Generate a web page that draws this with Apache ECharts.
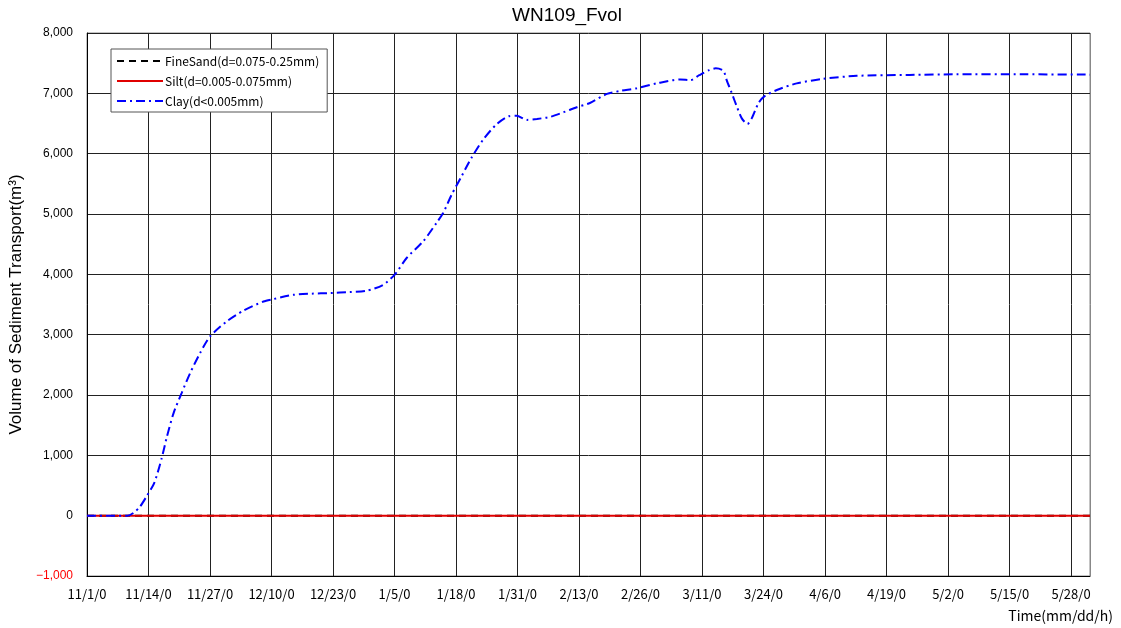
<!DOCTYPE html>
<html>
<head>
<meta charset="utf-8">
<script src="https://cdn.jsdelivr.net/npm/echarts@6/dist/echarts.min.js"></script>
<style>
  html, body { margin: 0; padding: 0; background: #fff; }
  #chart { width: 1121px; height: 628px; }
</style>
</head>
<body>
<div id="chart"></div>
<script>
// Tick labels every 13 days starting 11/1 (mm/dd/h)
const tickLabels = ['11/1/0', '11/14/0', '11/27/0', '12/10/0', '12/23/0', '1/5/0', '1/18/0',
  '1/31/0', '2/13/0', '2/26/0', '3/11/0', '3/24/0', '4/6/0', '4/19/0', '5/2/0', '5/15/0', '5/28/0'];

// Elapsed days since 11/1/0 and transported volume (m3)
const fineSandDays = [0, 212];
const fineSandVolume = [0, 0];

const siltDays = [0, 212];
const siltVolume = [0, 0];

const clayDays = [0, 8.5, 9.8, 11.2, 12.6, 14.2, 15.8, 16.9, 18.3, 20.0, 21.8, 23.9, 26.0,
  29.5, 33.0, 37.3, 39.4, 43.6, 47.5, 51.4, 55.5, 59.1, 62.6, 65.1, 67.6, 71.1, 73.9, 75.3,
  77.1, 79.2, 81.3, 83.8, 86.6, 89.1, 90.8, 93.0, 95.1, 97.9, 100.7, 103.5, 106.3, 109.9,
  112.7, 116.2, 120.4, 125.4, 127.6, 129.4, 131.5, 132.9, 134.5, 135.2, 136.3, 137.35,
  138.4, 139.6, 140.5, 141.9, 143.1, 145.8, 150.0, 155.6, 162.7, 173.9, 183.8, 197.9, 212];
const clayVolume = [0, 0, 45, 150, 320, 540, 955, 1313, 1700, 2032, 2363, 2695, 2970,
  3218, 3395, 3550, 3590, 3660, 3680, 3690, 3705, 3727, 3826, 4000, 4275, 4550, 4855, 5020,
  5325, 5630, 5935, 6240, 6490, 6620, 6630, 6560, 6575, 6610, 6685, 6770, 6840, 6990,
  7040, 7085, 7165, 7230, 7220, 7300, 7385, 7415, 7375, 7220, 7000, 6780,
  6585, 6492, 6585, 6835, 6945, 7055, 7165, 7240, 7290, 7305, 7315, 7315, 7310];

const pairs = (xs, ys) => xs.map((x, i) => [x, ys[i]]);

const chart = echarts.init(document.getElementById('chart'), null, { renderer: 'canvas' });

const jpFont = '"Noto Sans CJK JP", "Noto Sans", sans-serif';
const latinFont = '"Liberation Sans", Arial, sans-serif';

// Vertical grid lines: black at each dated tick, grey at the closing edge
const xGridColors = tickLabels.map(() => '#222').concat(['#888']);

chart.setOption({
  animation: false,
  backgroundColor: '#fff',
  title: {
    text: 'WN109_Fvol',
    left: 562,
    textAlign: 'center',
    top: 1,
    textStyle: { fontFamily: latinFont, fontSize: 19, fontWeight: 'normal', color: '#000' }
  },
  grid: {
    left: 87, right: 31, top: 33, bottom: 52,
    outerBoundsMode: 'none',
    containLabel: false,
    show: true, borderColor: '#888', borderWidth: 1, backgroundColor: '#fff'
  },
  legend: {
    orient: 'vertical',
    left: 111,
    top: 49,
    backgroundColor: '#fff',
    borderColor: '#555',
    borderWidth: 1,
    padding: [6, 8, 5, 5],
    itemWidth: 46,
    itemHeight: 12,
    itemGap: 8,
    itemStyle: { color: 'transparent', borderColor: 'transparent', borderWidth: 0 },
    textStyle: { fontFamily: jpFont, fontSize: 12, color: '#000', padding: [0, 0, 0, -3] },
    data: ['FineSand(d=0.075-0.25mm)', 'Silt(d=0.005-0.075mm)', 'Clay(d<0.005mm)']
  },
  xAxis: {
    type: 'value',
    min: 0,
    max: 212,
    interval: 13,
    name: 'Time(mm/dd/h)',
    nameLocation: 'end',
    nameGap: 23,
    nameTextStyle: {
      fontFamily: jpFont, fontSize: 14, color: '#000',
      align: 'right', verticalAlign: 'top', padding: [33, 0, 0, 0]
    },
    axisLine: { onZero: false, lineStyle: { color: '#000', width: 1 } },
    axisTick: { show: false },
    axisLabel: {
      margin: 12,
      fontFamily: jpFont, fontSize: 13, color: '#000',
      formatter: (v) => {
        const i = Math.round(v / 13);
        return Math.abs(v - i * 13) < 1e-6 && tickLabels[i] ? tickLabels[i] : '';
      }
    },
    splitLine: { show: true, lineStyle: { color: xGridColors, width: 1 } }
  },
  yAxis: {
    type: 'value',
    min: -1000,
    max: 8000,
    interval: 1000,
    name: 'Volume of Sediment Transport(m³)',
    nameLocation: 'middle',
    nameGap: 57,
    nameTextStyle: { fontFamily: latinFont, fontSize: 17, color: '#000' },
    axisLine: { show: true, lineStyle: { color: '#000', width: 1 } },
    axisTick: { show: false },
    axisLabel: {
      margin: 14,
      fontFamily: latinFont, fontSize: 12,
      color: (v) => (Number(v) < 0 ? '#ff0000' : '#000'),
      formatter: (v) => (v < 0 ? '\u2212' : '') + Math.abs(v).toLocaleString('en-US')
    },
    splitLine: { show: true, lineStyle: { color: '#222', width: 1 } }
  },
  series: [
    {
      name: 'FineSand(d=0.075-0.25mm)',
      type: 'line',
      showSymbol: false,
      symbol: 'none',
      data: pairs(fineSandDays, fineSandVolume),
      lineStyle: { color: '#000', width: 2, type: [7, 5] },
      itemStyle: { color: '#000' },
      z: 3
    },
    {
      name: 'Silt(d=0.005-0.075mm)',
      type: 'line',
      showSymbol: false,
      symbol: 'none',
      data: pairs(siltDays, siltVolume),
      lineStyle: { color: '#e00000', width: 2, type: 'solid' },
      itemStyle: { color: '#e00000' },
      z: 4
    },
    {
      name: 'Clay(d<0.005mm)',
      type: 'line',
      showSymbol: false,
      symbol: 'none',
      smooth: 0.25,
      data: pairs(clayDays, clayVolume),
      lineStyle: { color: '#0000ff', width: 2, type: [9, 4, 2, 4] },
      itemStyle: { color: '#0000ff' },
      z: 5
    }
  ]
});
</script>
</body>
</html>
